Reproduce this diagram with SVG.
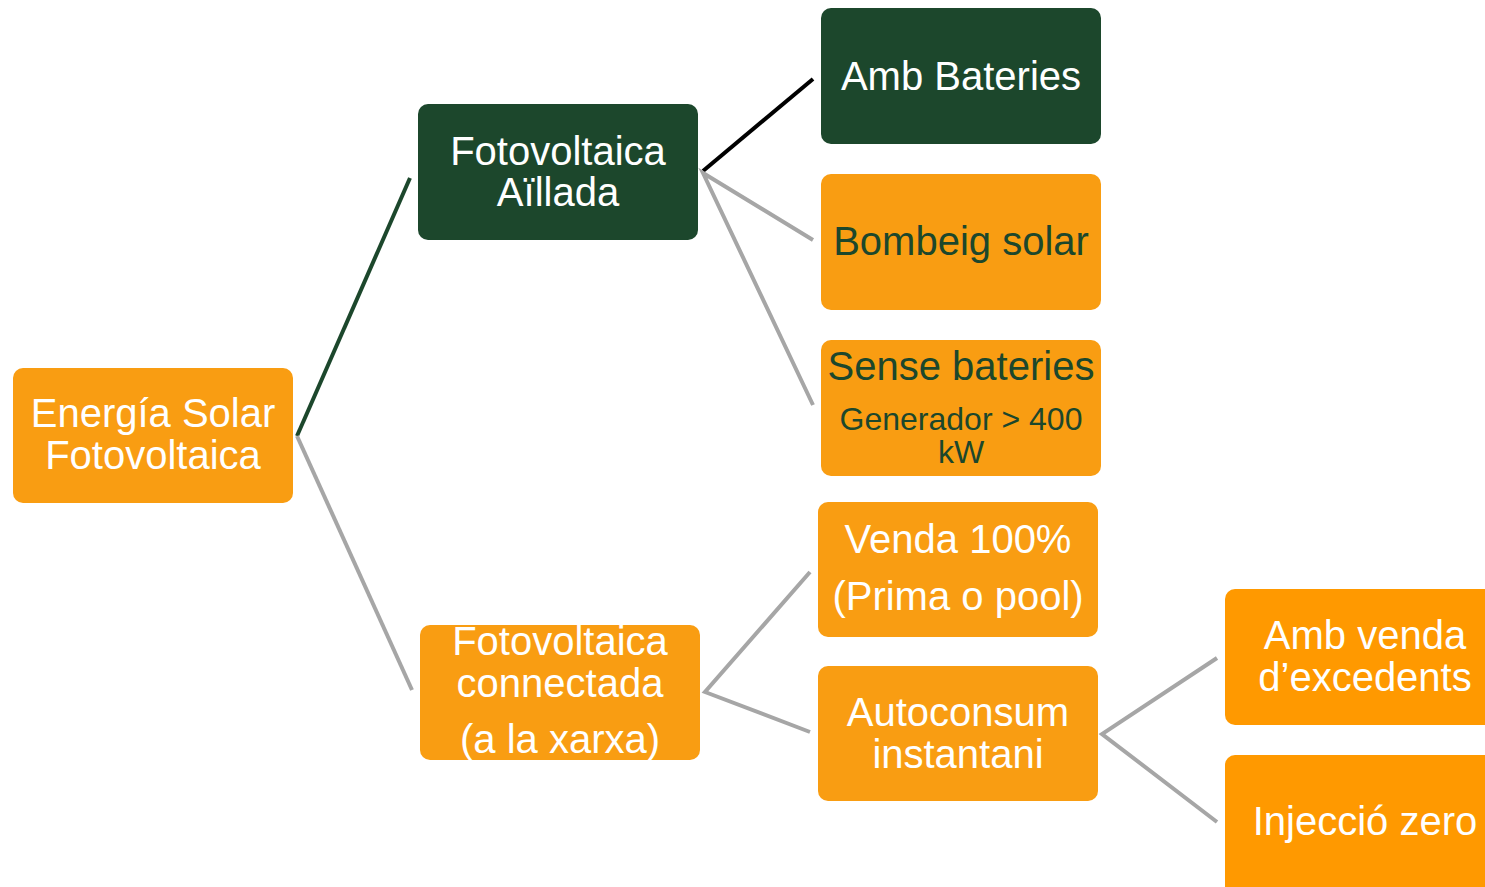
<svg xmlns="http://www.w3.org/2000/svg" width="1485" height="887" viewBox="0 0 1485 887">
<style>
.box{stroke:none}
.or{fill:#F99D12}
.or2{fill:#FF9900}
.gr{fill:#1C472C}
.t{font-family:"Liberation Sans",Arial,sans-serif;font-size:40px;text-anchor:middle}
.w{fill:#FFFFFF}
.d{fill:#1C472C}
.s{font-size:32px}
.c{fill:none;stroke-width:4;stroke-linecap:butt;stroke-linejoin:miter}
.cg{stroke:#A6A6A6}
</style>
<rect width="1485" height="887" fill="#FFFFFF"/>
<g id="connectors">
<polyline class="c" points="410,178 297,436" stroke="#1C472C"/>
<polyline class="c cg" points="297,436 412,690"/>
<polyline class="c" points="703,171 813,79" stroke="#000000"/>
<polyline class="c cg" points="813,240 703,173 813,405"/>
<polyline class="c cg" points="810,572 705,692 810,732"/>
<polyline class="c cg" points="1217,658 1102,734 1217,822"/>
</g>
<g id="root">
<rect class="box or" x="13" y="368" width="280" height="135" rx="10"/>
<text class="t w" x="153" y="427">Energía Solar</text>
<text class="t w" x="153" y="469">Fotovoltaica</text>
</g>
<g id="aillada">
<rect class="box gr" x="418" y="104" width="280" height="136" rx="10"/>
<text class="t w" x="558" y="165">Fotovoltaica</text>
<text class="t w" x="558" y="206">Aïllada</text>
</g>
<g id="amb-bateries">
<rect class="box gr" x="821" y="8" width="280" height="136" rx="10"/>
<text class="t w" x="961" y="90">Amb Bateries</text>
</g>
<g id="bombeig">
<rect class="box or" x="821" y="174" width="280" height="136" rx="10"/>
<text class="t d" x="961" y="255">Bombeig solar</text>
</g>
<g id="sense-bateries">
<rect class="box or" x="821" y="340" width="280" height="136" rx="10"/>
<text class="t d" x="961" y="380">Sense bateries</text>
<text class="t d s" x="961" y="430">Generador &gt; 400</text>
<text class="t d s" x="961" y="463">kW</text>
</g>
<g id="connectada">
<rect class="box or" x="420" y="625" width="280" height="135" rx="10"/>
<text class="t w" x="560" y="655">Fotovoltaica</text>
<text class="t w" x="560" y="697">connectada</text>
<text class="t w" x="560" y="753">(a la xarxa)</text>
</g>
<g id="venda">
<rect class="box or" x="818" y="502" width="280" height="135" rx="10"/>
<text class="t w" x="958" y="553">Venda 100%</text>
<text class="t w" x="958" y="610">(Prima o pool)</text>
</g>
<g id="autoconsum">
<rect class="box or" x="818" y="666" width="280" height="135" rx="10"/>
<text class="t w" x="958" y="726">Autoconsum</text>
<text class="t w" x="958" y="768">instantani</text>
</g>
<g id="amb-venda">
<rect class="box or2" x="1225" y="589" width="280" height="136" rx="10"/>
<text class="t w" x="1365" y="649">Amb venda</text>
<text class="t w" x="1365" y="691">d’excedents</text>
</g>
<g id="injeccio">
<rect class="box or2" x="1225" y="755" width="280" height="145" rx="10"/>
<text class="t w" x="1365" y="835">Injecció zero</text>
</g>
</svg>
